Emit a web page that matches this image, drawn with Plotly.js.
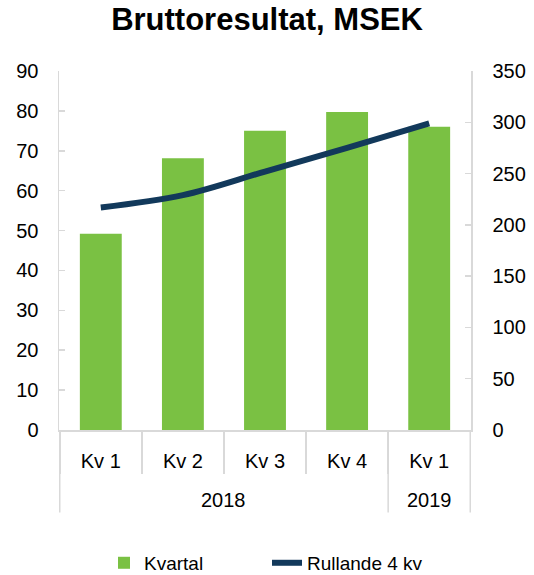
<!DOCTYPE html>
<html>
<head>
<meta charset="utf-8">
<script src="https://cdn.plot.ly/plotly-3.0.1.min.js"></script>
<style>html,body{margin:0;padding:0;background:#fff;}</style>
</head>
<body>
<div id="chart" style="width:534px;height:575px;"></div>
<script>
const years = ["2018", "2018", "2018", "2018", "2019"];
const quarters = ["Kv 1", "Kv 2", "Kv 3", "Kv 4", "Kv 1"];
const kvartal = [49.2, 68.1, 75.0, 79.7, 76.0];
const rullande = [217, 229, 252, 275, 299];

const font = "Liberation Sans, Arial, sans-serif";
const axisCol = "#D9D9D9";

// unique category keys built from the year/quarter arrays
const keys = years.map((y, i) => y + " " + quarters[i]);

// year groups: first/last index of each year
const groups = [];
years.forEach((y, i) => {
  const g = groups.find(g => g.year === y);
  if (g) g.last = i; else groups.push({year: y, first: i, last: i});
});

const yearAnnotations = groups.map(g => ({
  x: (g.first + g.last) / 2, xref: "x", y: -0.195, yref: "paper",
  text: g.year, showarrow: false, xanchor: "center", yanchor: "middle",
  font: {size: 20, family: font, color: "#000"}
}));
const dividerShapes = [];
groups.forEach((g, k) => {
  if (k === 0) dividerShapes.push(g.first - 0.5);
  dividerShapes.push(g.last + 0.5);
});
const shapes = dividerShapes.map(xb => ({
  type: "line", xref: "x", yref: "paper", x0: xb, x1: xb, y0: 0, y1: -0.23,
  line: {color: axisCol, width: 1.5}
}));

const traces = [
  {
    type: "bar", name: "Kvartal",
    x: keys, y: kvartal,
    marker: {color: "#7AC143"},
    yaxis: "y"
  },
  {
    type: "scatter", mode: "lines", name: "Rullande 4 kv",
    x: keys, y: rullande,
    line: {color: "#12395B", width: 6, shape: "spline", smoothing: 1},
    yaxis: "y2"
  }
];

const layout = {
  width: 534, height: 575,
  margin: {l: 59, r: 63, t: 71, b: 145},
  paper_bgcolor: "#fff", plot_bgcolor: "#fff",
  font: {family: font, color: "#000", size: 20},
  title: {text: "<b>Bruttoresultat, MSEK</b>", font: {size: 31, family: font, color: "#000"},
          x: 0.5, xanchor: "center", y: 0.985, yanchor: "top"},
  bargap: 0.49,
  showlegend: true,
  legend: {orientation: "h", x: 0.5, xanchor: "center", xref: "container",
           y: 0.021, yanchor: "middle", yref: "container",
           font: {size: 19, family: font}, itemwidth: 30, entrywidth: 118,
           traceorder: "normal"},
  annotations: yearAnnotations,
  shapes: shapes,
  xaxis: {
    type: "category", automargin: false,
    tickvals: keys, ticktext: quarters,
    showline: true, linecolor: axisCol, linewidth: 1.5,
    ticks: "outside", tickson: "boundaries", ticklen: 42, tickcolor: axisCol, tickwidth: 1.5,
    tickfont: {size: 20, family: font},
    ticklabelstandoff: 12,
    showgrid: false, zeroline: false, mirror: false
  },
  yaxis: {
    range: [0, 90], dtick: 10, tick0: 0, automargin: false,
    showline: true, linecolor: axisCol, linewidth: 1.5,
    ticks: "inside", ticklen: 6, tickcolor: axisCol, tickwidth: 1.5,
    showgrid: false, zeroline: false,
    tickfont: {size: 20, family: font},
    ticklabelstandoff: 15
  },
  yaxis2: {
    range: [0, 350], dtick: 50, tick0: 0, automargin: false,
    overlaying: "y", side: "right",
    showline: true, linecolor: axisCol, linewidth: 1.5,
    ticks: "inside", ticklen: 6, tickcolor: axisCol, tickwidth: 1.5,
    showgrid: false, zeroline: false,
    tickfont: {size: 20, family: font},
    ticklabelstandoff: 16
  }
};

Plotly.newPlot("chart", traces, layout, {displayModeBar: false, staticPlot: true});
</script>
</body>
</html>
